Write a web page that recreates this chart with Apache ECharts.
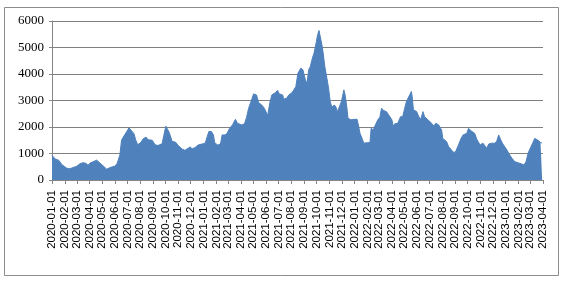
<!DOCTYPE html>
<html>
<head>
<meta charset="utf-8">
<script src="https://cdn.jsdelivr.net/npm/echarts@6/dist/echarts.min.js"></script>
<style>
html,body{margin:0;padding:0;background:#fff;}
#chart{width:563px;height:283px;}
</style>
</head>
<body>
<div id="chart"></div>
<script>
var dates = [
"2020-01-01","2020-01-10","2020-01-17","2020-01-25","2020-02-06","2020-02-13","2020-02-21","2020-03-01","2020-03-09","2020-03-16",
"2020-03-23","2020-03-28","2020-04-03","2020-04-08","2020-04-18","2020-04-25","2020-05-02","2020-05-12","2020-05-19","2020-05-26",
"2020-06-01","2020-06-06","2020-06-09","2020-06-13","2020-06-17","2020-06-20","2020-06-30","2020-07-05","2020-07-12","2020-07-17",
"2020-07-21","2020-07-26","2020-08-03","2020-08-08","2020-08-15","2020-08-20","2020-08-30","2020-09-06","2020-09-13","2020-09-23",
"2020-09-27","2020-10-02","2020-10-06","2020-10-10","2020-10-17","2020-10-20","2020-10-26","2020-11-01","2020-11-10","2020-11-17",
"2020-11-25","2020-11-30","2020-12-04","2020-12-12","2020-12-19","2020-12-29","2021-01-05","2021-01-10","2021-01-14","2021-01-20",
"2021-01-25","2021-01-28","2021-02-04","2021-02-11","2021-02-15","2021-02-22","2021-02-27","2021-03-05","2021-03-12","2021-03-19",
"2021-03-24","2021-04-03","2021-04-10","2021-04-15","2021-04-20","2021-04-27","2021-05-02","2021-05-09","2021-05-14","2021-05-21",
"2021-05-26","2021-06-01","2021-06-05","2021-06-10","2021-06-15","2021-06-19","2021-06-24","2021-06-29","2021-07-03","2021-07-06",
"2021-07-11","2021-07-14","2021-07-21","2021-07-26","2021-08-03","2021-08-07","2021-08-12","2021-08-17","2021-08-24","2021-08-29",
"2021-09-04","2021-09-08","2021-09-12","2021-09-16","2021-09-21","2021-09-25","2021-09-30","2021-10-03","2021-10-07","2021-10-09",
"2021-10-14","2021-10-17","2021-10-21","2021-10-26","2021-10-30","2021-11-03","2021-11-07","2021-11-13","2021-11-17","2021-11-20",
"2021-11-25","2021-11-30","2021-12-04","2021-12-06","2021-12-09","2021-12-13","2021-12-16","2021-12-23","2021-12-31","2022-01-07",
"2022-01-11","2022-01-14","2022-01-19","2022-01-23","2022-01-26","2022-02-01","2022-02-07","2022-02-10","2022-02-15","2022-02-19",
"2022-02-22","2022-02-26","2022-03-03","2022-03-07","2022-03-12","2022-03-19","2022-03-24","2022-04-01","2022-04-04","2022-04-08",
"2022-04-15","2022-04-22","2022-04-27","2022-05-02","2022-05-06","2022-05-14","2022-05-18","2022-05-20","2022-05-23","2022-05-31",
"2022-06-05","2022-06-10","2022-06-15","2022-06-19","2022-06-27","2022-07-06","2022-07-11","2022-07-16","2022-07-23","2022-07-30",
"2022-08-02","2022-08-11","2022-08-16","2022-08-23","2022-08-29","2022-09-03","2022-09-08","2022-09-15","2022-09-20","2022-09-29",
"2022-10-03","2022-10-09","2022-10-12","2022-10-18","2022-10-23","2022-10-31","2022-11-07","2022-11-12","2022-11-16","2022-11-21",
"2022-11-28","2022-12-05","2022-12-10","2022-12-15","2022-12-20","2022-12-25","2023-01-04","2023-01-09","2023-01-16","2023-01-23",
"2023-01-31","2023-02-09","2023-02-14","2023-02-19","2023-02-24","2023-03-02","2023-03-07","2023-03-12","2023-03-16","2023-03-21",
"2023-03-26","2023-03-30"
];
var values = [
920,780,750,580,440,425,470,520,620,650,
630,560,650,680,750,650,560,410,460,500,
520,620,750,950,1500,1590,1840,1970,1840,1750,
1520,1330,1420,1550,1620,1520,1500,1330,1300,1370,
1680,2030,2100,1800,1460,1400,1420,1300,1170,1120,
1200,1250,1170,1230,1320,1360,1390,1640,1830,1830,
1700,1410,1320,1360,1700,1700,1760,1950,2080,2290,
2140,2080,2120,2370,2710,3020,3250,3210,2920,2840,
2750,2580,2430,2900,3210,3150,3300,3380,3250,3280,
3210,3050,3090,3210,3300,3400,3530,4030,4220,4160,
3780,3650,4160,4280,4600,4790,5170,5440,5640,5480,
5100,4790,4280,3840,3470,2960,2750,2830,2750,2580,
2750,2960,3250,3400,3210,2770,2330,2270,2290,2290,
1990,1760,1570,1390,1320,1410,1410,1950,1890,2040,
2040,2270,2370,2710,2620,2580,2460,2270,2040,2120,
2140,2390,2390,2710,2960,3210,3340,3150,2650,2580,
2390,2290,2580,2390,2270,2140,2040,2140,2080,1890,
1570,1450,1260,1130,1030,1110,1290,1570,1700,1760,
1950,1860,1890,1760,1540,1320,1390,1280,1200,1360,
1390,1390,1450,1700,1510,1360,1130,980,820,690,
650,600,570,690,1010,1230,1390,1570,1510,1490,
1410,1400
];
var xMin = "2020-01-01";
var xMax = "2023-04-01";
var yTicks = [0, 1000, 2000, 3000, 4000, 5000, 6000];

var seriesData = dates.map(function (d, i) { return [d, values[i]]; });
function pad(n) { return (n < 10 ? "0" : "") + n; }
var DAY = 86400000;

var chart = echarts.init(document.getElementById("chart"), null, { renderer: "canvas" });
chart.setOption({
  animation: false,
  backgroundColor: "#ffffff",
  graphic: [{
    type: "rect",
    shape: { x: 4.5, y: 7.5, width: 554, height: 268 },
    style: { fill: "none", stroke: "#8c8c8c", lineWidth: 1 },
    silent: true
  }],
  grid: { left: 52, top: 21, right: 20, bottom: 103, containLabel: false },
  xAxis: {
    type: "time",
    min: xMin,
    max: xMax,
    minInterval: 28 * DAY,
    maxInterval: 31 * DAY,
    splitNumber: 40,
    axisLine: { lineStyle: { color: "#868686", width: 1 } },
    axisTick: { show: true, length: 4, lineStyle: { color: "#868686" } },
    minorTick: { show: false },
    splitLine: { show: false },
    axisLabel: {
      rotate: 90,
      interval: 0,
      hideOverlap: false,
      margin: 10,
      color: "#000",
      fontFamily: "Liberation Sans",
      fontSize: 11.5,
      formatter: function (v) {
        var d = new Date(v);
        return d.getFullYear() + "-" + pad(d.getMonth() + 1) + "-" + pad(d.getDate());
      }
    }
  },
  yAxis: {
    type: "value",
    min: yTicks[0],
    max: yTicks[yTicks.length - 1],
    interval: 1000,
    axisLine: { show: true, lineStyle: { color: "#868686", width: 1 } },
    axisTick: { show: true, length: 3, lineStyle: { color: "#868686" } },
    splitLine: { show: true, lineStyle: { color: "#808080", width: 1 } },
    axisLabel: {
      margin: 8,
      color: "#000",
      fontFamily: "Liberation Serif",
      fontSize: 13,
      formatter: function (v) { return String(v); }
    }
  },
  series: [{
    type: "line",
    data: seriesData,
    showSymbol: false,
    symbol: "none",
    lineStyle: { color: "#4f81bd", width: 1 },
    areaStyle: { color: "#4f81bd", opacity: 1 },
    itemStyle: { color: "#4f81bd" }
  }]
});
</script>
</body>
</html>
